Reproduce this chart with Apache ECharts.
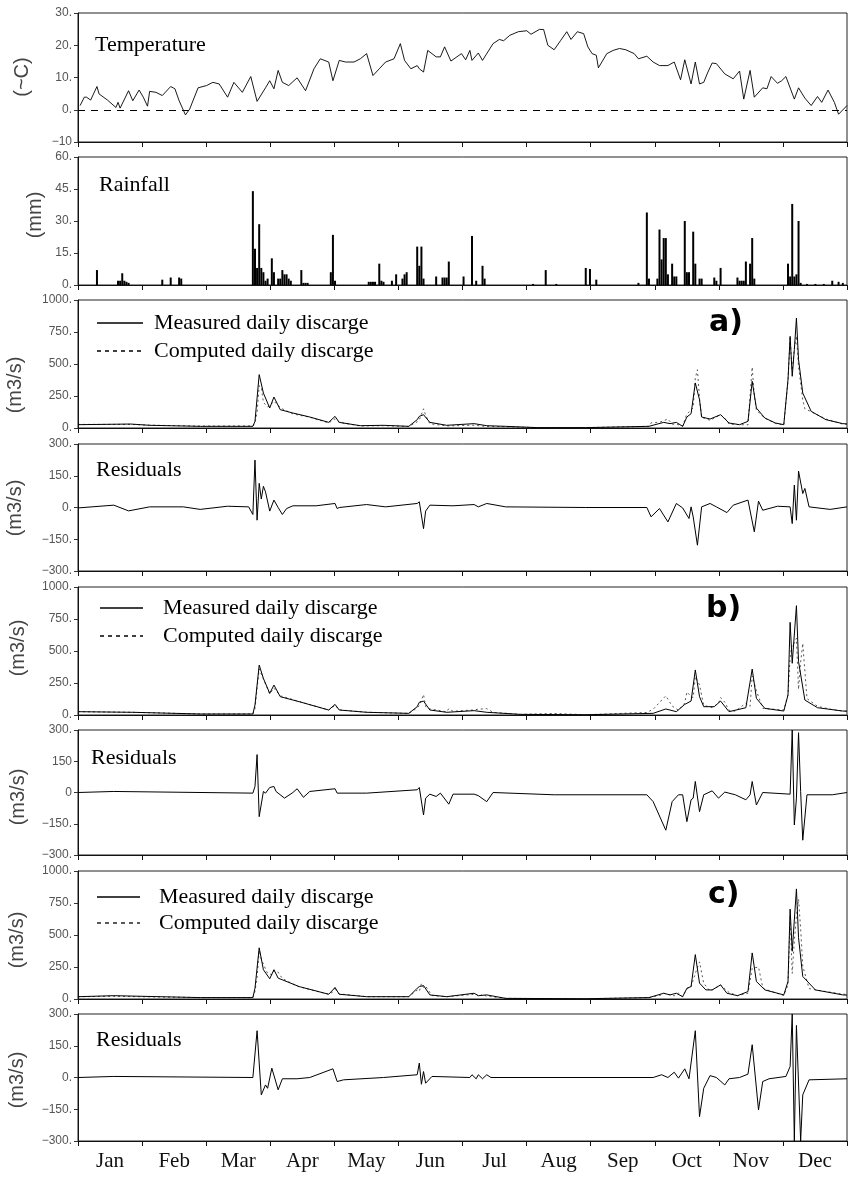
<!DOCTYPE html>
<html><head><meta charset="utf-8">
<script src="https://cdn.jsdelivr.net/npm/echarts@6/dist/echarts.min.js"></script>
<style>html,body{margin:0;padding:0;background:#fff}#c{width:849px;height:1177px}</style>
</head><body><div id="c"></div>
<script>
const months = ['Jan','Feb','Mar','Apr','May','Jun','Jul','Aug','Sep','Oct','Nov','Dec'];

const temperature = [[1,1.3],[3,3.9],[4,3.9],[6,3.0],[9,7.2],[10,4.9],[14,3.0],[18,0.7],[19,2.3],[20,0.5],[24,5.9],[26,2.8],[29,6.1],[31,3.9],[33,1.1],[34,5.7],[37,5.4],[40,4.4],[44,7.2],[46,6.5],[48,2.8],[51,-1.6],[53,0.2],[57,6.8],[61,7.5],[64,8.5],[67,8.0],[71,3.9],[74,8.5],[78,5.4],[82,10.3],[85,2.6],[89,6.8],[91,9.0],[93,6.5],[95,12.2],[97,8.5],[100,7.5],[104,9.9],[108,5.9],[112,12.7],[115,15.8],[119,14.8],[121,9.0],[124,15.3],[127,14.8],[131,14.8],[134,15.8],[137,17.4],[140,10.6],[143,12.7],[146,14.8],[150,15.8],[153,20.5],[155,15.3],[158,12.7],[161,13.7],[162,12.7],[164,11.7],[166,18.4],[170,16.4],[172,16.4],[174,19.5],[177,15.1],[182,17.4],[184,15.5],[186,18.4],[187,15.3],[190,17.6],[192,15.3],[197,20.5],[200,21.8],[202,21.4],[205,23.1],[209,24.2],[213,24.5],[215,23.4],[219,24.9],[221,24.9],[223,20.0],[226,18.6],[229,21.4],[232,24.2],[234,21.8],[237,24.2],[240,23.6],[242,19.5],[244,17.4],[246,16.9],[247,13.0],[251,17.4],[254,18.4],[257,19.0],[260,18.6],[264,17.4],[266,15.8],[270,16.6],[273,14.8],[276,13.7],[280,13.7],[283,14.8],[286,9.3],[288,15.5],[291,8.0],[293,14.8],[295,8.0],[297,8.5],[299,11.7],[301,14.5],[303,14.3],[307,11.1],[311,9.6],[314,12.0],[316,3.3],[319,12.2],[321,3.9],[325,6.8],[327,6.5],[329,10.3],[332,8.2],[334,9.0],[336,10.3],[340,3.3],[342,6.8],[345,3.6],[348,1.3],[351,4.1],[353,2.3],[356,6.1],[359,2.3],[361,-1.4],[365,1.3]];

const rainfall = [[9,7],[19,2],[20,2],[21,5.5],[22,2],[23,1.5],[24,1],[40,2.5],[44,3.5],[48,3.5],[49,3],[83,44],[84,17],[85,8],[86,28.5],[87,8],[88,6],[89,2],[90,3],[92,12.5],[93,6],[95,3],[96,3],[97,7],[98,5],[99,5],[100,3],[101,2],[106,7],[107,1],[108,1],[109,1],[120,6],[121,23.5],[122,2],[138,1.5],[139,1.5],[140,1.5],[141,1.5],[143,10],[144,2],[145,1.5],[149,2],[151,5],[154,3],[155,5],[156,6],[161,18],[162,9],[163,18],[164,3],[170,4],[173,3.5],[174,3.5],[175,3.5],[176,11],[183,4],[187,23],[189,2],[192,9],[193,3],[216,0.5],[222,7],[227,0.5],[241,8],[243,7.5],[246,2.5],[266,1],[270,34],[271,3],[275,3],[276,26],[277,12],[278,22],[279,22],[280,5],[282,10],[283,4],[284,4],[288,30],[289,6],[290,6],[292,25],[293,10],[295,3],[296,3],[302,3.5],[303,2],[305,8],[313,3.5],[314,2],[315,2],[316,2],[317,11],[319,10],[320,22],[321,3],[337,10],[338,4],[339,38],[340,4],[341,5],[342,30],[343,1],[346,0.5],[350,0.5],[354,0.5],[358,2],[361,1.5],[363,1]];

const measuredA = [[0,26],[25,31],[34,21],[58,13],[83,13],[84,52],[86,417],[88,273],[91,156],[93,242],[96,143],[102,117],[110,86],[119,44],[122,91],[124,44],[134,18],[145,21],[157,13],[161,65],[162,91],[164,104],[167,44],[175,21],[188,34],[194,18],[203,13],[218,3],[241,3],[271,13],[278,44],[281,34],[284,44],[287,13],[289,86],[291,112],[293,352],[295,221],[296,86],[300,70],[305,104],[309,39],[314,26],[318,52],[320,365],[322,156],[326,78],[331,39],[335,26],[337,378],[338,716],[339,404],[340,612],[341,859],[342,534],[344,273],[348,130],[355,65],[363,34],[365,32]];
const computedA = [[0,28],[25,28],[34,22],[58,15],[83,16],[84,40],[85,120],[86,330],[87,320],[88,200],[90,165],[91,173],[93,210],[95,175],[97,150],[102,110],[110,84],[119,40],[122,72],[124,44],[134,16],[145,18],[157,12],[161,48],[162,64],[164,150],[165,100],[167,33],[175,16],[188,22],[194,12],[203,10],[218,3],[241,3],[271,13],[272,40],[276,45],[280,70],[282,30],[284,30],[287,15],[289,110],[291,140],[292,160],[293,390],[294,455],[295,230],[296,84],[300,60],[305,104],[308,60],[309,30],[314,26],[318,25],[320,476],[321,250],[322,140],[325,90],[326,78],[331,35],[335,24],[337,370],[338,700],[339,450],[340,620],[341,720],[342,480],[344,220],[345,150],[348,127],[355,70],[363,30],[365,29]];
const residualA = [[0,-2],[17,11],[24,-16],[34,3],[50,3],[58,-9],[71,6],[81,3],[83,-33],[84,224],[85,-60],[86,114],[87,40],[88,100],[89,74],[91,-17],[93,35],[95,0],[97,-33],[99,-5],[102,8],[113,8],[122,19],[123,-5],[124,0],[137,14],[146,3],[161,19],[162,27],[164,-100],[165,-17],[167,11],[178,8],[188,14],[190,3],[194,19],[203,3],[241,0],[270,0],[272,-44],[276,-5],[280,-68],[284,19],[287,-2],[290,-52],[291,3],[292,-44],[294,-178],[296,3],[300,19],[303,3],[308,-24],[311,11],[318,35],[321,-115],[323,30],[325,-13],[332,6],[338,3],[339,-76],[340,106],[341,-60],[342,172],[344,66],[345,90],[347,3],[357,-9],[365,3]];

const measuredB = [[0,26],[26,21],[58,8],[83,8],[84,78],[86,390],[88,286],[91,169],[93,234],[96,143],[105,104],[119,39],[122,83],[124,39],[137,21],[157,13],[161,65],[162,99],[164,109],[167,39],[175,21],[188,34],[194,21],[210,5],[241,2],[273,13],[279,47],[284,26],[288,83],[291,109],[293,352],[295,143],[297,65],[302,65],[305,109],[309,26],[317,57],[320,359],[322,130],[326,52],[335,31],[337,156],[338,724],[339,404],[341,854],[342,417],[345,117],[351,57],[363,31],[365,30]];
const computedB = [[0,26],[26,21],[58,8],[83,8],[84,50],[85,210],[86,360],[88,280],[91,165],[93,210],[96,150],[105,105],[119,38],[122,75],[124,40],[137,22],[157,12],[161,55],[162,75],[164,160],[165,66],[167,47],[170,40],[175,24],[176,50],[178,29],[188,40],[190,45],[194,50],[197,21],[210,5],[226,12],[241,2],[270,20],[273,45],[279,150],[282,70],[285,37],[288,94],[289,180],[291,144],[292,136],[293,299],[295,235],[297,76],[301,57],[304,92],[305,136],[307,100],[309,37],[312,30],[317,92],[319,68],[320,306],[322,190],[325,52],[335,39],[337,160],[338,450],[339,560],[340,560],[341,600],[342,200],[343,412],[344,560],[346,128],[351,68],[358,42],[363,31],[365,30]];
const residualB = [[0,0],[17,5],[83,-3],[84,29],[85,182],[86,-116],[88,5],[89,-3],[91,24],[93,29],[94,5],[98,-27],[102,0],[104,18],[107,-23],[110,5],[122,18],[123,-3],[137,-3],[161,13],[162,24],[164,-108],[165,-27],[167,-8],[170,-19],[172,-3],[176,-56],[178,-8],[188,-8],[190,-15],[194,-44],[197,0],[226,-11],[270,-11],[273,-44],[279,-181],[282,-44],[285,-11],[287,-11],[289,-140],[291,-35],[292,-27],[293,53],[295,-92],[297,-11],[301,8],[304,-27],[307,2],[312,-11],[317,-35],[319,-11],[320,53],[322,-60],[325,0],[338,-8],[339,300],[340,-156],[341,-27],[342,287],[343,5],[344,-229],[346,-11],[358,-11],[365,0]];

const measuredC = [[0,18],[17,26],[58,11],[83,11],[84,84],[86,400],[88,229],[91,158],[93,229],[95,163],[105,97],[119,37],[122,89],[124,37],[137,18],[157,18],[161,84],[162,97],[164,105],[167,32],[175,18],[188,45],[190,26],[194,32],[203,5],[241,2],[271,11],[278,45],[281,32],[284,45],[287,18],[289,84],[291,97],[293,347],[295,124],[298,71],[301,71],[305,110],[308,45],[313,26],[318,58],[320,360],[322,137],[326,71],[335,32],[337,137],[338,702],[339,373],[341,860],[342,479],[344,176],[350,71],[363,32],[365,30]];
const computedC = [[0,18],[17,21],[58,11],[83,11],[84,60],[85,170],[86,380],[87,310],[89,235],[90,200],[92,190],[93,220],[95,210],[97,160],[104,100],[119,37],[121,55],[122,95],[123,50],[124,40],[137,18],[157,18],[161,70],[162,60],[163,120],[164,90],[165,100],[168,27],[175,18],[187,35],[189,40],[190,20],[192,35],[194,22],[203,5],[241,2],[271,11],[277,32],[278,45],[281,32],[283,25],[285,45],[287,18],[288,50],[290,95],[291,97],[293,200],[295,290],[297,122],[300,62],[301,71],[305,110],[307,80],[309,51],[313,26],[318,45],[320,240],[323,250],[325,90],[326,77],[335,27],[337,110],[338,650],[339,200],[340,450],[341,650],[342,780],[343,550],[344,258],[347,82],[350,71],[363,38],[365,36]];
const residualC = [[0,0],[17,5],[83,0],[85,221],[87,-82],[89,-35],[90,-51],[92,44],[95,-58],[97,-6],[104,-6],[110,0],[121,41],[123,-19],[126,-11],[145,0],[161,13],[162,68],[163,-32],[164,28],[165,-27],[168,5],[186,0],[187,13],[189,-6],[190,13],[192,-6],[194,13],[196,0],[273,0],[277,13],[280,0],[283,25],[285,-3],[288,41],[290,-6],[293,221],[295,-185],[297,-51],[300,9],[303,0],[307,-35],[309,-6],[314,0],[318,16],[320,155],[323,-153],[325,-19],[328,-6],[336,5],[338,52],[339,300],[340,-300],[341,246],[343,-300],[344,-82],[347,-11],[365,-6]];

const tempTicks = {'30':'30.','20':'20.','10':'10.','0':'0.','-10':'−10'};
const rainTicks = {'60':'60.','45':'45.','30':'30.','15':'15.','0':'0.'};
const flowTicks = {'1000':'1000.','750':'750.','500':'500.','250':'250.','0':'0.'};
const resTicks = {'300':'300.','150':'150.','0':'0.','-150':'−150.','-300':'−300.'};
const resTicksB = {'300':'300.','150':'150','0':'0','-150':'−150.','-300':'−300.'};

const X = d => d * 12 / 365;
const toXY = arr => arr.map(p => [X(p[0]), p[1]]);

const panels = [
  {top:13, h:129, min:-10, max:30, step:10, ticks:tempTicks},
  {top:157, h:128, min:0, max:60, step:15, ticks:rainTicks},
  {top:300, h:128, min:0, max:1000, step:250, ticks:flowTicks},
  {top:444, h:127, min:-300, max:300, step:150, ticks:resTicks},
  {top:587, h:128, min:0, max:1000, step:250, ticks:flowTicks},
  {top:730, h:125, min:-300, max:300, step:150, ticks:resTicksB},
  {top:871, h:128, min:0, max:1000, step:250, ticks:flowTicks},
  {top:1014, h:127, min:-300, max:300, step:150, ticks:resTicks}
];

const grid = [], xAxis = [], yAxis = [];
panels.forEach((p, i) => {
  grid.push({left:78, width:769, top:p.top, height:p.h, show:true, borderColor:'#222', borderWidth:1, backgroundColor:'transparent'});
  xAxis.push({type:'value', gridIndex:i, min:0, max:12, interval:1,
    axisLine:{show:true, onZero:false, lineStyle:{color:'#111', width:1}},
    axisTick:{show:true, inside:false, length:5, lineStyle:{color:'#111'}},
    axisLabel:{show:false}, splitLine:{show:false}});
  yAxis.push({type:'value', gridIndex:i, min:p.min, max:p.max, interval:p.step,
    axisLine:{show:true, lineStyle:{color:'#111'}},
    axisTick:{show:true, inside:false, length:4, lineStyle:{color:'#333'}},
    splitLine:{show:false},
    axisLabel:{margin:6, color:'#555', fontFamily:'Liberation Sans', fontSize:12,
      formatter: v => p.ticks[String(v)] ?? String(v)}});
});
xAxis.push({type:'category', gridIndex:7, data:months, boundaryGap:true, position:'bottom',
  axisLine:{show:false}, axisTick:{show:false}, splitLine:{show:false},
  axisLabel:{margin:10, color:'#111', fontFamily:'Liberation Serif', fontSize:21}});

const solid = {color:'#000', width:1};
const dashed = {color:'#444', width:0.9, type:[2,3]};
function line(data, xi, style, z) {
  return {type:'line', xAxisIndex:xi, yAxisIndex:xi, data:toXY(data), symbol:'none',
    lineStyle:style, silent:true, z:z||2};
}
const series = [
  Object.assign(line(temperature, 0, {color:'#000', width:0.9}), {markLine:{silent:true, symbol:'none', label:{show:false},
    lineStyle:{color:'#000', width:1, type:[7,6]}, data:[{yAxis:0}]}}),
  {type:'bar', xAxisIndex:1, yAxisIndex:1, data:toXY(rainfall), barWidth:2, itemStyle:{color:'#000'}, silent:true},
  line(computedA, 2, dashed, 2), line(measuredA, 2, solid, 3),
  line(residualA, 3, solid),
  line(computedB, 4, dashed, 2), line(measuredB, 4, solid, 3),
  line(residualB, 5, solid),
  line(computedC, 6, dashed, 2), line(measuredC, 6, solid, 3),
  line(residualC, 7, solid)
];

const serif = s => s + 'px "Liberation Serif", "Times New Roman", serif';
const graphic = [];
function txt(t, x, y, font, align) {
  graphic.push({type:'text', x:x, y:y, silent:true,
    style:{text:t, font:font, fill:'#000', align:align||'left', verticalAlign:'middle'}});
}
function vtxt(t, x, y) {
  graphic.push({type:'text', x:x, y:y, rotation:Math.PI/2, silent:true,
    style:{text:t, font:'20px "Liberation Sans", sans-serif', fill:'#444', align:'center', verticalAlign:'middle'}});
}
function seg(x1, y, x2, dash) {
  graphic.push({type:'line', silent:true, shape:{x1:x1, y1:y, x2:x2, y2:y},
    style:{stroke:'#000', lineWidth:1.3, lineDash:dash||null}});
}
txt('Temperature', 95, 45, serif(22));
txt('Rainfall', 99, 185, serif(22));
txt('Residuals', 96, 470, serif(22));
txt('Residuals', 91, 758, serif(22));
txt('Residuals', 96, 1040, serif(22));
// legends
seg(97, 323, 143); txt('Measured daily discarge', 154, 323, serif(22));
seg(97, 351, 143, [4,4]); txt('Computed daily discarge', 154, 351, serif(22));
seg(100, 608, 143); txt('Measured daily discarge', 163, 608, serif(22));
seg(100, 636, 143, [4,4]); txt('Computed daily discarge', 163, 636, serif(22));
seg(97, 897, 140); txt('Measured daily discarge', 159, 897, serif(22));
seg(97, 923, 140, [4,4]); txt('Computed daily discarge', 159, 923, serif(22));
const heavy = '900 30px "DejaVu Sans", "Liberation Sans", sans-serif';
txt('a)', 709, 323, heavy);
txt('b)', 706, 609, heavy);
txt('c)', 708, 895, heavy);
vtxt('(~C)', 22, 77);
vtxt('(mm)', 35, 215);
vtxt('(m3/s)', 15, 385);
vtxt('(m3/s)', 15, 508);
vtxt('(m3/s)', 18, 648);
vtxt('(m3/s)', 18, 797);
vtxt('(m3/s)', 17, 940);
vtxt('(m3/s)', 17, 1080);

const chart = echarts.init(document.getElementById('c'), null, {renderer:'canvas'});
chart.setOption({animation:false, backgroundColor:'#fff', grid, xAxis, yAxis, series, graphic});
</script></body></html>
